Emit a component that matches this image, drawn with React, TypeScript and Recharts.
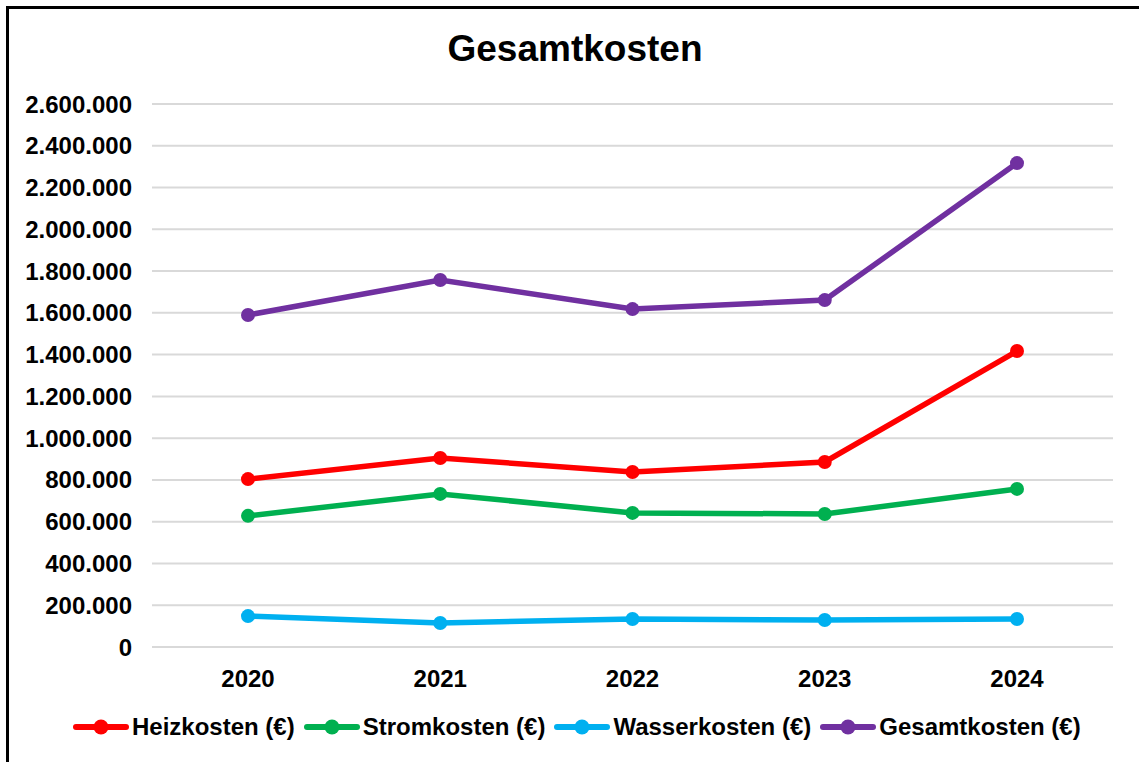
import React from 'react';
import { LineChart, Line, XAxis, YAxis, CartesianGrid } from 'recharts';

const years = ['2020', '2021', '2022', '2023', '2024'];
const heizkosten = [804000, 905000, 838000, 886000, 1417000];
const stromkosten = [628000, 733000, 642000, 637000, 757000];
const wasserkosten = [148000, 115000, 134000, 129000, 134000];
const gesamtkosten = [1590000, 1757000, 1618000, 1661000, 2317000];
const yTicks = [0, 200000, 400000, 600000, 800000, 1000000, 1200000, 1400000, 1600000, 1800000, 2000000, 2200000, 2400000, 2600000];

const series = [
  { key: 'heiz', name: 'Heizkosten (€)', color: '#FF0000', values: heizkosten },
  { key: 'strom', name: 'Stromkosten (€)', color: '#00B050', values: stromkosten },
  { key: 'wasser', name: 'Wasserkosten (€)', color: '#00B0F0', values: wasserkosten },
  { key: 'gesamt', name: 'Gesamtkosten (€)', color: '#7030A0', values: gesamtkosten },
];

const data = years.map((y, i) => {
  const row: any = { year: y };
  series.forEach((s) => (row[s.key] = s.values[i]));
  return row;
});

const fmt = (v: number) => v.toLocaleString('de-DE');
const FONT = '"Liberation Sans", Arial, sans-serif';

export default function App() {
  return (
    <div style={{ position: 'absolute', left: 0, top: 0, width: 1139, height: 762, background: '#fff', fontFamily: FONT, overflow: 'hidden' }}>
      <div style={{ position: 'absolute', left: 6, top: 6, width: 1133, height: 756, borderLeft: '3px solid #000', borderTop: '3px solid #000', boxSizing: 'border-box' }} />
      <div style={{ position: 'absolute', left: 0, top: 28, width: 1150, textAlign: 'center', fontSize: 37, fontWeight: 'bold', color: '#000' }}>
        Gesamtkosten
      </div>
      <div style={{ position: 'absolute', left: 0, top: 0 }}>
        <LineChart width={1139} height={762} data={data} margin={{ top: 104, right: 26, bottom: 85, left: 0 }}>
          <CartesianGrid horizontal={true} vertical={false} stroke="#D9D9D9" strokeWidth={2} />
          <XAxis
            dataKey="year"
            axisLine={false}
            tickLine={false}
            tickMargin={17}
            padding={{ left: 96, right: 96 }}
            tick={{ fill: '#000', fontSize: 24, fontWeight: 'bold', fontFamily: FONT }}
          />
          <YAxis
            width={152}
            domain={[0, 2600000]}
            ticks={yTicks}
            interval={0}
            axisLine={false}
            tickLine={false}
            tickMargin={14}
            tickFormatter={fmt}
            tick={{ fill: '#000', fontSize: 24, fontWeight: 'bold', fontFamily: FONT }}
          />
          {series.map((s) => (
            <Line
              key={s.key}
              dataKey={s.key}
              name={s.name}
              stroke={s.color}
              strokeWidth={5.5}
              dot={{ r: 7, fill: s.color, stroke: s.color, strokeWidth: 0 }}
              isAnimationActive={false}
            />
          ))}
        </LineChart>
      </div>
      <div style={{ position: 'absolute', left: 73, top: 713, display: 'flex', alignItems: 'center', height: 28 }}>
        {series.map((s) => (
          <div key={s.key} style={{ display: 'flex', alignItems: 'center', marginRight: 9 }}>
            <svg width={56} height={20} style={{ marginRight: 3 }}>
              <line x1={3} y1={10} x2={53} y2={10} stroke={s.color} strokeWidth={6} strokeLinecap="round" />
              <circle cx={28} cy={10} r={7.5} fill={s.color} />
            </svg>
            <span style={{ fontSize: 24, fontWeight: 'bold', color: '#000', whiteSpace: 'nowrap' }}>{s.name}</span>
          </div>
        ))}
      </div>
    </div>
  );
}
